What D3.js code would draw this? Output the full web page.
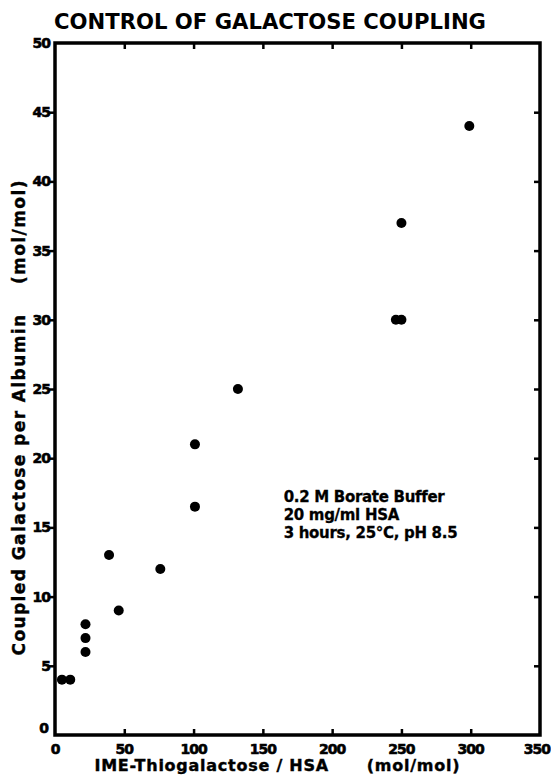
<!DOCTYPE html>
<html>
<head>
<meta charset="utf-8">
<script src="https://cdn.jsdelivr.net/npm/d3@7"></script>
<style>
  body { margin: 0; background: #fff; }
  text { font-family: "DejaVu Sans", sans-serif; font-weight: bold; fill: #000; }
</style>
</head>
<body>
<div class="canvas"></div>
<script>
// values
const ratio = [5, 11, 22, 22, 22, 39, 46, 76, 101, 101, 132, 246, 250, 250, 299];
const coupled = [4, 4, 8, 7, 6, 13, 9, 12, 16.5, 21, 25, 30, 30, 37, 44];
const xTicks = [0, 50, 100, 150, 200, 250, 300, 350];
const yTicks = [0, 5, 10, 15, 20, 25, 30, 35, 40, 45, 50];
const notes = ['0.2 M Borate Buffer', '20 mg/ml HSA', '3 hours, 25\u00B0C, pH 8.5'];

const svg = d3.select('.canvas')
    .append('svg')
    .attr('width', 551)
    .attr('height', 776);

const margin = {top: 43, right: 11, bottom: 41, left: 55};
const graphWidth = 551 - margin.left - margin.right;
const graphHeight = 776 - margin.top - margin.bottom;

const graph = svg.append('g')
    .attr('transform', `translate(${margin.left}, ${margin.top})`);

const x = d3.scaleLinear().domain([0, 350]).range([0, graphWidth]);
const y = d3.scaleLinear().domain([0, 50]).range([graphHeight, 0]);

// frame
graph.append('rect')
    .attr('width', graphWidth)
    .attr('height', graphHeight)
    .attr('fill', 'none')
    .attr('stroke', '#000')
    .attr('stroke-width', 3.5);

// axes: left ticks point out, others point in
const xAxisGroup = graph.append('g')
    .attr('transform', `translate(0, ${graphHeight})`)
    .call(d3.axisBottom(x).tickValues(xTicks.slice(1, -1)).tickSize(-6).tickFormat(''));
const topAxis = graph.append('g')
    .call(d3.axisTop(x).tickValues(xTicks.slice(1, -1)).tickSize(-6).tickFormat(''));
const yAxisGroup = graph.append('g')
    .call(d3.axisLeft(y).tickValues(yTicks.slice(1, -1)).tickSize(6).tickFormat(''));
const rightAxis = graph.append('g')
    .attr('transform', `translate(${graphWidth}, 0)`)
    .call(d3.axisRight(y).tickValues(yTicks.slice(1, -1)).tickSize(-6).tickFormat(''));

graph.selectAll('.domain').remove();
graph.selectAll('.tick line').attr('stroke', '#000').attr('stroke-width', 2.5);

// tick labels (last one kept inside the page edge)
const last = xTicks[xTicks.length - 1];
graph.selectAll('.xlab')
    .data(xTicks)
    .enter()
    .append('text')
        .attr('x', d => d === last ? x(d) + 10 : x(d))
        .attr('y', graphHeight + 19)
        .attr('text-anchor', d => d === last ? 'end' : 'middle')
        .attr('font-size', 14)
        .attr('letter-spacing', -1)
        .attr('stroke', '#000')
        .attr('stroke-width', 0.6)
        .text(d => d);

graph.selectAll('.ylab')
    .data(yTicks)
    .enter()
    .append('text')
        .attr('x', d => d === 0 ? -7 : -5)
        .attr('y', d => y(d) + (d === 0 ? -2 : 5))
        .attr('text-anchor', 'end')
        .attr('font-size', 14)
        .attr('letter-spacing', -1)
        .attr('stroke', '#000')
        .attr('stroke-width', 0.6)
        .text(d => d);

// points
graph.selectAll('circle')
    .data(ratio)
    .enter()
    .append('circle')
        .attr('cx', d => x(d))
        .attr('cy', (d, i) => y(coupled[i]))
        .attr('r', 5)
        .attr('fill', '#000');

// annotation
graph.selectAll('.note')
    .data(notes)
    .enter()
    .append('text')
        .attr('x', x(165))
        .attr('y', (d, i) => y(16.8) + i * 18)
        .attr('font-size', 15)
        .attr('letter-spacing', -0.3)
        .attr('stroke', '#000')
        .attr('stroke-width', 0.3)
        .text(d => d);

// title and axis titles
svg.append('text')
    .attr('x', 270)
    .attr('y', 29)
    .attr('text-anchor', 'middle')
    .attr('font-size', 22)
    .attr('textLength', 432)
    .attr('lengthAdjust', 'spacingAndGlyphs')
    .text('CONTROL OF GALACTOSE COUPLING');

svg.append('text')
    .attr('x', 277)
    .attr('y', 771)
    .attr('text-anchor', 'middle')
    .attr('font-size', 16)
    .attr('textLength', 365)
    .attr('xml:space', 'preserve')
    .attr('stroke', '#000')
    .attr('stroke-width', 0.4)
    .text('IME-Thiogalactose / HSA      (mol/mol)');

svg.append('text')
    .attr('transform', 'translate(25, 418) rotate(-90)')
    .attr('text-anchor', 'middle')
    .attr('font-size', 17)
    .attr('textLength', 475)
    .attr('xml:space', 'preserve')
    .attr('stroke', '#000')
    .attr('stroke-width', 0.4)
    .text('Coupled Galactose per Albumin    (mol/mol)');
</script>
</body>
</html>
